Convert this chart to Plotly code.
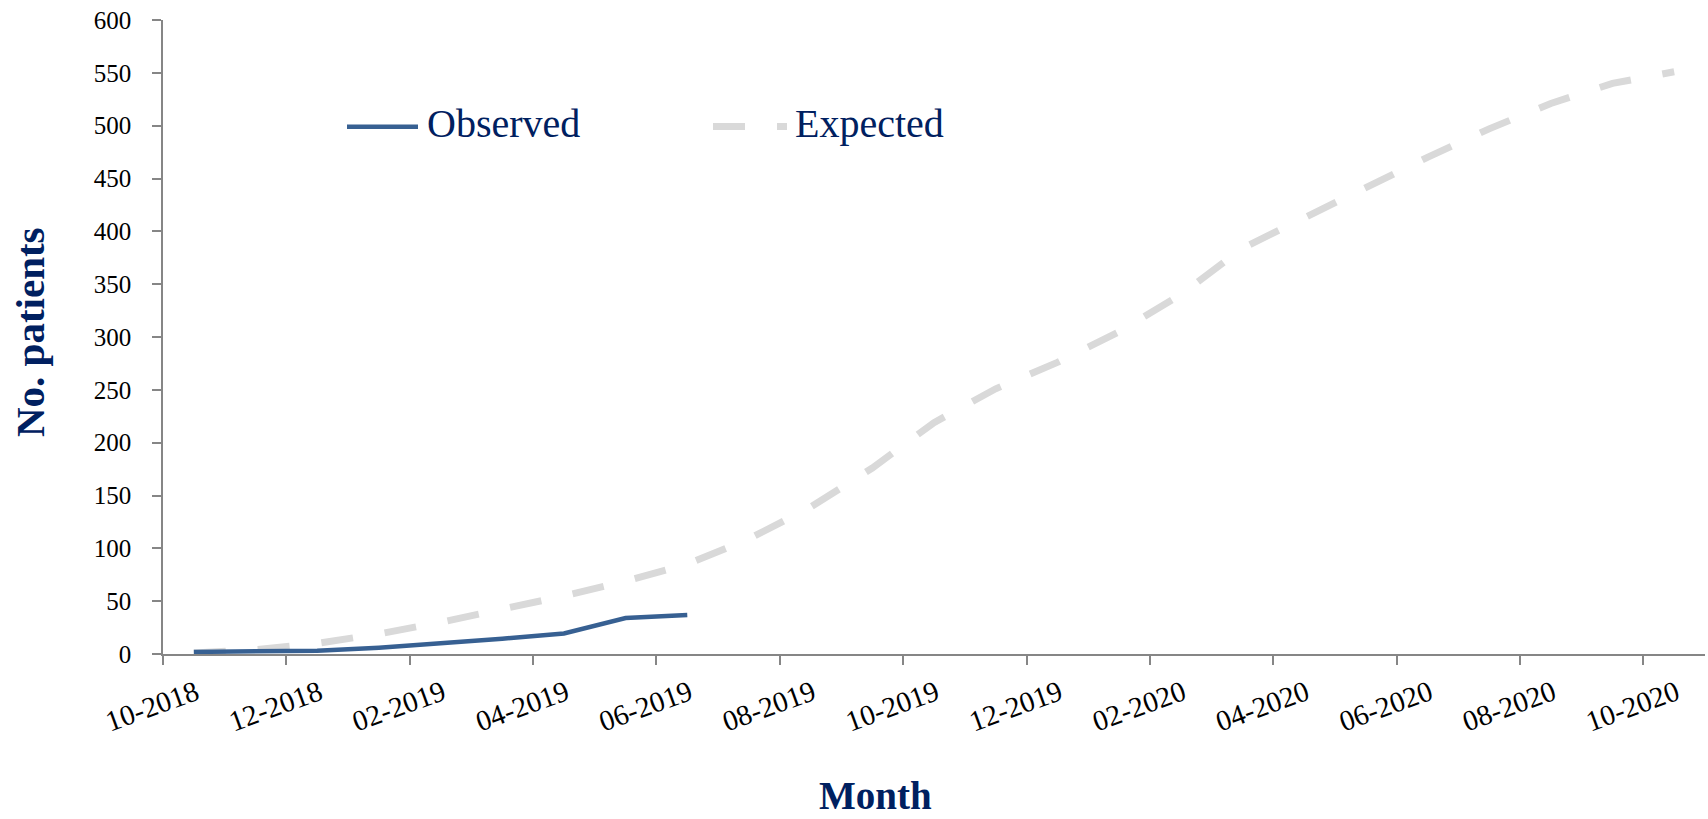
import plotly.graph_objects as go

# ---- data ----
months = ["10-2018", "11-2018", "12-2018", "01-2019", "02-2019", "03-2019", "04-2019",
          "05-2019", "06-2019", "07-2019", "08-2019", "09-2019", "10-2019", "11-2019",
          "12-2019", "01-2020", "02-2020", "03-2020", "04-2020", "05-2020", "06-2020",
          "07-2020", "08-2020", "09-2020", "10-2020"]
observed = [2, 3, 3, 6, 10, 14.5, 19.5, 34, 37]
expected = [1, 4, 10, 19, 30, 42, 55, 69, 85, 109, 139, 176, 219, 251, 276, 305,
            340, 384, 413, 441, 470, 497, 521, 540, 551]
tick_labels = months[::2]

# category positions (centred within each monthly slot)
x_obs = [i + 0.5 for i in range(len(observed))]
x_exp = [i + 0.5 for i in range(len(expected))]
tick_pos = [months.index(m) for m in tick_labels]

W, H = 1708, 819
L, R, T, B = 163, 3, 20, 165
PW, PH = W - L - R, H - T - B


def px_x(px):
    return (px - L) / PW


def px_y(py):
    return (H - B - py) / PH


NAVY = "#002060"
AX = "#868686"
BLUE = "#376092"
GRAY = "#D9D9D9"
FONT = "Liberation Serif"

fig = go.Figure()
fig.add_trace(go.Scatter(x=x_exp, y=expected, mode="lines", name="Expected",
                         line=dict(color=GRAY, width=7, dash="32px,32px")))
fig.add_trace(go.Scatter(x=x_obs, y=observed, mode="lines", name="Observed",
                         line=dict(color=BLUE, width=4.5)))

fig.update_layout(
    width=W, height=H,
    margin=dict(l=L, r=R, t=T, b=B, pad=0),
    paper_bgcolor="white", plot_bgcolor="white",
    showlegend=False,
    font=dict(family=FONT, color="black"),
    xaxis=dict(range=[0, len(months)], tickmode="array", tickvals=tick_pos,
               ticktext=tick_labels, showline=True, linecolor=AX, linewidth=1.5,
               ticks="outside", ticklen=9, tickwidth=1.5, tickcolor=AX,
               showgrid=False, zeroline=False, tickangle=-20,
               tickfont=dict(family=FONT, size=29, color="black"),
               ticklabelshift=33, ticklabelstandoff=0),
    yaxis=dict(range=[0, 600], tick0=0, dtick=50, showline=True, linecolor=AX,
               linewidth=1.5, ticks="outside", ticklen=9, tickwidth=1.5,
               tickcolor=AX, showgrid=False, zeroline=False,
               tickfont=dict(family=FONT, size=25, color="black"),
               ticklabelstandoff=16),
)

# legend drawn as shapes + text
fig.add_shape(type="line", xref="paper", yref="paper",
              x0=px_x(347), x1=px_x(418), y0=px_y(126.7), y1=px_y(126.7),
              line=dict(color=BLUE, width=4.5))
fig.add_shape(type="line", xref="paper", yref="paper",
              x0=px_x(713), x1=px_x(787), y0=px_y(126.5), y1=px_y(126.5),
              line=dict(color=GRAY, width=7, dash="32px,32px"))
fig.add_annotation(text="Observed", xref="paper", yref="paper",
                   x=px_x(425), y=px_y(124), xanchor="left", yanchor="middle",
                   showarrow=False, font=dict(family=FONT, size=40, color=NAVY))
fig.add_annotation(text="Expected", xref="paper", yref="paper",
                   x=px_x(793), y=px_y(124), xanchor="left", yanchor="middle",
                   showarrow=False, font=dict(family=FONT, size=40, color=NAVY))

# axis titles
fig.add_annotation(text="<b>Month</b>", xref="paper", yref="paper",
                   x=px_x(875), y=px_y(795), xanchor="center", yanchor="middle",
                   showarrow=False, font=dict(family=FONT, size=39, color=NAVY))
fig.add_annotation(text="<b>No. patients</b>", xref="paper", yref="paper",
                   x=px_x(30), y=px_y(332), xanchor="center", yanchor="middle",
                   textangle=-90, showarrow=False,
                   font=dict(family=FONT, size=41, color=NAVY))

fig.write_html("out.html")
